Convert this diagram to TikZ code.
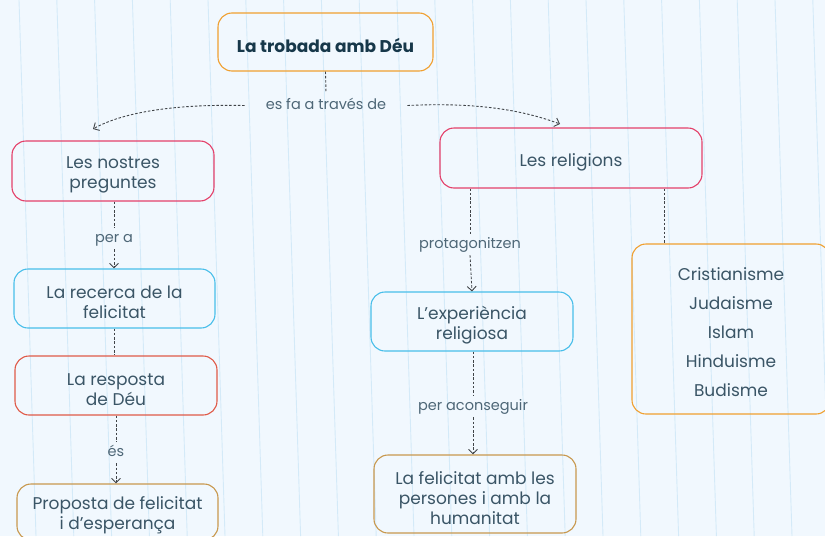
\documentclass[tikz,border=0pt]{standalone}
\usepackage{fontspec}
\setmainfont{Poppins}
\usetikzlibrary{arrows.meta,calc}
\definecolor{bg}{HTML}{F1F8FE}
\definecolor{bgline}{HTML}{D4EAF8}
\definecolor{txt}{HTML}{3A5566}
\definecolor{labc}{HTML}{4E6777}
\definecolor{titc}{HTML}{17384A}
\definecolor{conc}{HTML}{404448}
\definecolor{corange}{HTML}{F0A030}
\definecolor{cpink}{HTML}{E4406A}
\definecolor{ccyan}{HTML}{48BEEA}
\definecolor{cred}{HTML}{E05A48}
\definecolor{ctan}{HTML}{C8984E}
\tikzset{
  box/.style={draw, rounded corners=14pt, line width=1.1pt, inner sep=0pt},
  btext/.style={text=txt, align=center, font=\fontsize{17}{20}\selectfont, inner sep=0pt, yshift=-4pt},
  lab/.style={text=labc, font=\fontsize{14.5}{16}\selectfont, inner xsep=0pt, inner ysep=4pt,
    text height=10pt, text depth=3pt, yshift=-1.5pt},
  conn/.style={draw=conc, line width=0.9pt, dash pattern=on 2.5pt off 1.8pt},
  arr/.style={-{Straight Barb[length=4.5pt,width=9pt]}},
}
\begin{document}
\begin{tikzpicture}[x=1pt,y=-1pt]
\useasboundingbox (0,0) rectangle (825,536);
\begin{scope}
\clip (0,0) rectangle (825,536);
\fill[bg] (0,0) rectangle (825,536);
\foreach \k in {0,...,22}{
  \draw[bgline, line width=0.9pt] ({19+37.8*\k},0) -- ({36+37.8*\k},536);
}
\end{scope}

% nodes
\node[box, draw=corange, minimum width=215pt, minimum height=58pt,
  label={[btext, text=titc, font=\fontsize{17}{20}\selectfont\bfseries, yshift=1pt]center:La trobada amb Déu}] (title) at (325.5,42) {};
\node[box, draw=cpink, minimum width=202pt, minimum height=60pt,
  label={[btext]center:{Les nostres\\preguntes}}] (preg) at (113,171) {};
\node[box, draw=ccyan, minimum width=201pt, minimum height=59pt,
  label={[btext]center:{La recerca de la\\felicitat}}] (recerca) at (114.5,298.5) {};
\node[box, draw=cred, minimum width=202pt, minimum height=59pt,
  label={[btext]center:{La resposta\\de Déu}}] (resposta) at (116,385.5) {};
\node[box, draw=ctan, minimum width=201pt, minimum height=56pt,
  label={[btext, yshift=1pt]center:{Proposta de felicitat\\i d’esperança}}] (proposta) at (117.5,512) {};
\node[box, draw=cpink, minimum width=262pt, minimum height=60pt,
  label={[btext]center:Les religions}] (religions) at (571,158) {};
\node[box, draw=ccyan, minimum width=202pt, minimum height=59pt,
  label={[btext]center:{L’experiència\\religiosa}}] (experiencia) at (472,321.5) {};
\node[box, draw=ctan, minimum width=202pt, minimum height=78pt,
  label={[btext]center:{La felicitat amb les\\persones i amb la\\humanitat}}] (felicitat) at (475,494) {};
\node[box, draw=corange, minimum width=198pt, minimum height=170pt,
  label={[btext, font=\fontsize{17}{29}\selectfont, yshift=1pt]center:{Cristianisme\\Judaisme\\Islam\\Hinduisme\\Budisme}}] (llista) at (731,329) {};

% labels
\node[lab, inner xsep=21pt, inner ysep=6pt] (lab1) at (326,104) {es fa a través de};
\node[lab] (lab2) at (114,237) {per a};
\node[lab] (lab3) at (116,451) {és};
\node[lab] (lab4) at (470,243) {protagonitzen};
\node[lab] (lab5) at (473,405) {per aconseguir};

\coordinate (a1) at (93,129);
\coordinate (a2) at (560,124);

% connectors
\draw[conn] (title.south) -- (lab1.north);
\draw[conn, arr] (lab1.west) .. controls (180,104) and (125,111) .. (a1);
\draw[conn, arr] (lab1.east) .. controls (480,102) and (525,111) .. (a2);

\draw[conn] (preg.south -| lab2) -- (lab2.north);
\draw[conn, arr] (lab2.south) -- (lab2 |- recerca.north);

\draw[conn] (recerca.south) -- (recerca.south |- resposta.north);

\draw[conn] (resposta.south -| lab3) -- (lab3.north);
\draw[conn, arr] (lab3.south) -- (lab3 |- proposta.north);

\draw[conn] (religions.south -| lab4) -- (lab4.north);
\draw[conn, arr] (lab4.south) -- (experiencia.north);

\draw[conn] (experiencia.south -| lab5) -- (lab5.north);
\draw[conn, arr] (lab5.south) -- (lab5 |- felicitat.north);

\coordinate (r1) at ($(religions.south)+(93,0)$);
\draw[conn] (r1) -- (r1 |- llista.north);
\end{tikzpicture}
\end{document}
